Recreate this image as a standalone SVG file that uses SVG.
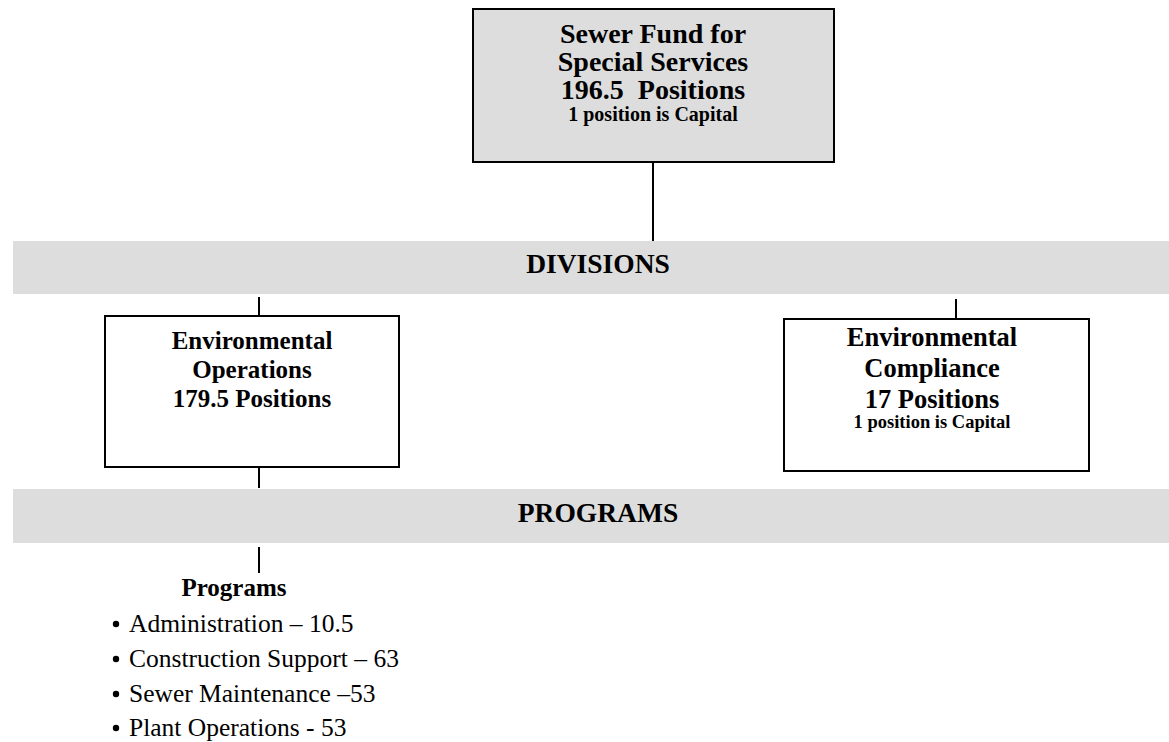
<svg xmlns="http://www.w3.org/2000/svg" width="1169" height="742" viewBox="0 0 1169 742">
<style>
.t{font-family:"Liberation Serif","Times New Roman",serif;fill:#000}
.b{font-weight:bold}
.box{stroke:#000;stroke-width:2}
.band{fill:#dddddd}
.conn line{stroke:#000;stroke-width:2}
</style>
<rect width="1169" height="742" fill="#fff"/>
<g id="band-divisions">
<rect class="band" x="13" y="241" width="1156" height="53"/>
<text class="t b" x="598" y="273" font-size="27.5" text-anchor="middle">DIVISIONS</text>
</g>
<g id="band-programs">
<rect class="band" x="13" y="489" width="1156" height="54"/>
<text class="t b" x="598" y="522" font-size="27.5" text-anchor="middle">PROGRAMS</text>
</g>
<g class="conn" id="connectors">
<line x1="653" y1="162" x2="653" y2="241"/>
<line x1="259" y1="297" x2="259" y2="316"/>
<line x1="956" y1="299" x2="956" y2="319"/>
<line x1="259" y1="467" x2="259" y2="488"/>
<line x1="259" y1="547" x2="259" y2="573"/>
</g>
<g id="sewer-fund">
<rect class="box" x="473" y="9" width="361" height="153" fill="#dddddd"/>
<text class="t b" x="653" y="43" font-size="28" text-anchor="middle">Sewer Fund for</text>
<text class="t b" x="653" y="71" font-size="28" text-anchor="middle">Special Services</text>
<text class="t b" x="653" y="99" font-size="28" text-anchor="middle" xml:space="preserve">196.5  Positions</text>
<text class="t b" x="653" y="121" font-size="20" text-anchor="middle">1 position is Capital</text>
</g>
<g id="env-operations">
<rect class="box" x="105" y="316" width="294" height="151" fill="#fff"/>
<text class="t b" x="252" y="349" font-size="25" text-anchor="middle">Environmental</text>
<text class="t b" x="252" y="378" font-size="25" text-anchor="middle">Operations</text>
<text class="t b" x="252" y="407" font-size="25" text-anchor="middle">179.5 Positions</text>
</g>
<g id="env-compliance">
<rect class="box" x="784" y="319" width="305" height="152" fill="#fff"/>
<text class="t b" x="932" y="346" font-size="26.5" text-anchor="middle">Environmental</text>
<text class="t b" x="932" y="377" font-size="26.5" text-anchor="middle">Compliance</text>
<text class="t b" x="932" y="408" font-size="26.5" text-anchor="middle">17 Positions</text>
<text class="t b" x="932" y="428" font-size="18.5" text-anchor="middle">1 position is Capital</text>
</g>
<g id="programs-list">
<text class="t b" x="234" y="596" font-size="25" text-anchor="middle">Programs</text>
<circle cx="116" cy="624" r="3.2"/>
<text class="t" x="129" y="632" font-size="25.5">Administration – 10.5</text>
<circle cx="116" cy="659" r="3.2"/>
<text class="t" x="129" y="667" font-size="25.5">Construction Support – 63</text>
<circle cx="116" cy="694" r="3.2"/>
<text class="t" x="129" y="702" font-size="25.5">Sewer Maintenance –53</text>
<circle cx="116" cy="728" r="3.2"/>
<text class="t" x="129" y="736" font-size="25.5">Plant Operations - 53</text>
</g>
</svg>
